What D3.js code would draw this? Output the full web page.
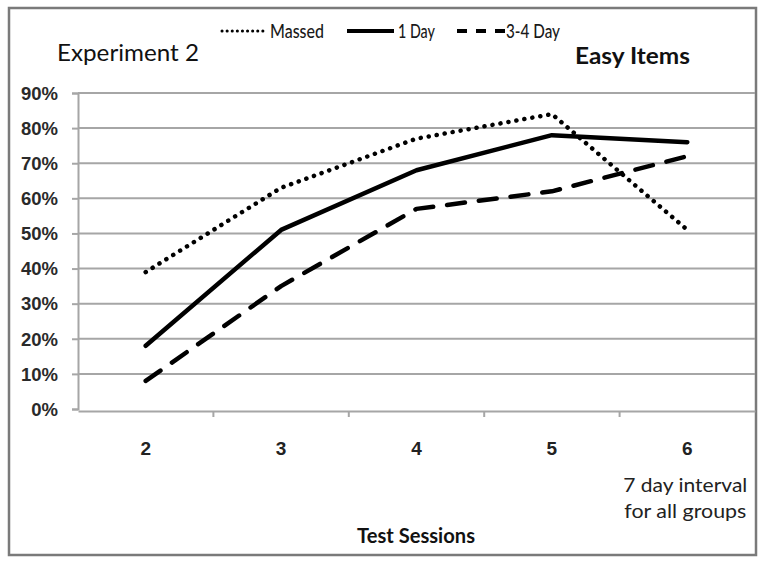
<!DOCTYPE html>
<html><head><meta charset="utf-8">
<script src="https://cdn.jsdelivr.net/npm/d3@7"></script>
<style>
body{margin:0;background:#fff;}
svg{display:block;font-family:"Lato","Open Sans",sans-serif;}
</style></head><body>
<svg id="c" width="760" height="561"></svg>
<script>
const sessions = ["2","3","4","5","6"];
const massed = [0.39, 0.63, 0.77, 0.84, 0.51];
const oneDay = [0.18, 0.51, 0.68, 0.78, 0.76];
const threeFourDay = [0.08, 0.35, 0.57, 0.62, 0.72];
const yTicks = [0,0.1,0.2,0.3,0.4,0.5,0.6,0.7,0.8,0.9];
const seriesNames = ["Massed","1 Day","3-4 Day"];

const svg = d3.select("#c");
const L = 78, R = 755, T = 93, B = 409;
const x = d3.scaleBand().domain(sessions).range([L, R]);
const y = d3.scaleLinear().domain([0, 0.9]).range([B, T]);

// frame
svg.append("rect").attr("x",9).attr("y",8).attr("width",747).attr("height",547)
  .attr("fill","none").attr("stroke","#7a7a7a").attr("stroke-width",2.5);

// gridlines
svg.append("g").selectAll("line").data(yTicks.slice(1)).join("line")
  .attr("x1",L).attr("x2",R).attr("y1",d=>y(d)).attr("y2",d=>y(d))
  .attr("stroke","#a6a6a6").attr("stroke-width",2);

// y axis
const ya = svg.append("g").attr("transform",`translate(${L},0)`)
  .call(d3.axisLeft(y).tickValues(yTicks).tickFormat(d3.format(".0%")).tickSize(6).tickPadding(14));
ya.select(".domain").attr("stroke","#a6a6a6").attr("stroke-width",2);
ya.selectAll(".tick line").attr("stroke","#a6a6a6").attr("stroke-width",2);
ya.selectAll("text").attr("font-size",18.5).attr("font-weight","bold").attr("fill","#2a2a2a")
  .attr("dy","0.34em");

// x axis
const xa = svg.append("g").attr("transform",`translate(0,${B+2})`)
  .call(d3.axisBottom(x).tickSize(0).tickPadding(31));
xa.select(".domain").attr("stroke","#a6a6a6").attr("stroke-width",2);
xa.selectAll("text").attr("font-size",19).attr("font-weight","bold").attr("fill","#222");
// category separators
svg.append("g").selectAll("line").data(sessions.slice(1)).join("line")
  .attr("x1",d=>x(d)).attr("x2",d=>x(d)).attr("y1",B+2).attr("y2",B+8)
  .attr("stroke","#a6a6a6").attr("stroke-width",2);

const cx = d => x(d) + x.bandwidth()/2;
svg.append("text").attr("x",cx("6")-2).attr("y",492).attr("text-anchor","middle")
  .attr("font-size",20).attr("fill","#222").attr("textLength",124).attr("lengthAdjust","spacingAndGlyphs").text("7 day interval");
svg.append("text").attr("x",cx("6")-2).attr("y",518).attr("text-anchor","middle")
  .attr("font-size",20).attr("fill","#222").attr("textLength",122).attr("lengthAdjust","spacingAndGlyphs").text("for all groups");
svg.append("text").attr("x",416).attr("y",543).attr("text-anchor","middle")
  .attr("font-size",20).attr("font-weight","bold").attr("fill","#111").attr("textLength",118).attr("lengthAdjust","spacingAndGlyphs").text("Test Sessions");

// titles
svg.append("text").attr("x",57).attr("y",61)
  .attr("font-size",24).attr("fill","#111").attr("textLength",142).attr("lengthAdjust","spacingAndGlyphs").text("Experiment 2");
svg.append("text").attr("x",575).attr("y",64)
  .attr("font-size",22).attr("font-weight","bold").attr("fill","#111").attr("textLength",115).attr("lengthAdjust","spacingAndGlyphs").text("Easy Items");

// lines
const line = d3.line().x((d,i)=>cx(sessions[i])).y(d=>y(d));
const styles = [
  {data: massed, dash:"0.1 8", w:4.5},
  {data: oneDay, dash:null, w:4.5},
  {data: threeFourDay, dash:"18 14", w:4.5}
];
styles.forEach(s=>{
  svg.append("path").datum(s.data).attr("d",line).attr("fill","none")
    .attr("stroke","#000").attr("stroke-width",s.w).attr("stroke-linecap","round")
    .attr("stroke-linejoin","round").attr("stroke-dasharray",s.dash);
});

// legend
const legend = [
  {name: seriesNames[0], x1:222, x2:267, tx:270, tl:54, dash:"0.1 5", w:3, cap:"round"},
  {name: seriesNames[1], x1:347, x2:394, tx:398, tl:37, dash:null, w:4, cap:"butt"},
  {name: seriesNames[2], x1:457, x2:505, tx:506, tl:54, dash:"10 9", w:4, cap:"butt"}
];
legend.forEach(l=>{
  svg.append("line").attr("x1",l.x1).attr("x2",l.x2).attr("y1",31).attr("y2",31)
    .attr("stroke","#000").attr("stroke-width",l.w).attr("stroke-linecap",l.cap)
    .attr("stroke-dasharray",l.dash);
  svg.append("text").attr("x",l.tx).attr("y",38).attr("font-size",19).attr("fill","#1a1a1a")
    .attr("font-weight","500")
    .attr("textLength",l.tl).attr("lengthAdjust","spacingAndGlyphs").text(l.name);
});
</script></body></html>
